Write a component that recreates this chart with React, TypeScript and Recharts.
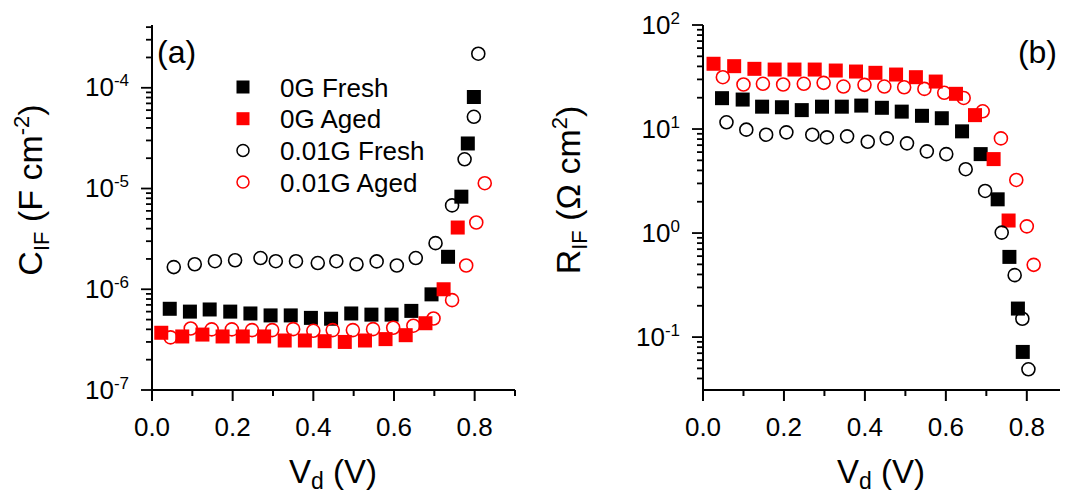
import React from "react";
import { ScatterChart, Scatter, XAxis, YAxis, Legend } from "recharts";

const FONT = "'Liberation Sans', Arial, Helvetica, sans-serif";
const RED = "#ff0000";

// (a) interfacial capacitance C_IF (F cm^-2) vs Vd (V)
const cFresh0V = [0.044, 0.094, 0.143, 0.194, 0.244, 0.294, 0.344, 0.394, 0.444, 0.494, 0.544, 0.594, 0.643, 0.693, 0.734, 0.767, 0.783, 0.798];
const cFresh0 = [6.4e-7, 6.0e-7, 6.3e-7, 6.0e-7, 5.75e-7, 5.5e-7, 5.5e-7, 5.2e-7, 5.1e-7, 5.75e-7, 5.6e-7, 5.6e-7, 6.1e-7, 8.9e-7, 2.1e-6, 8.3e-6, 2.8e-5, 8.1e-5];
const cAged0V = [0.023, 0.075, 0.125, 0.175, 0.225, 0.278, 0.329, 0.379, 0.428, 0.478, 0.528, 0.579, 0.629, 0.678, 0.723, 0.758];
const cAged0 = [3.7e-7, 3.4e-7, 3.55e-7, 3.4e-7, 3.4e-7, 3.4e-7, 3.1e-7, 3.1e-7, 3.05e-7, 3.0e-7, 3.1e-7, 3.2e-7, 3.5e-7, 4.6e-7, 1.0e-6, 4.1e-6];
const cFresh01V = [0.054, 0.106, 0.156, 0.206, 0.269, 0.307, 0.357, 0.411, 0.457, 0.507, 0.557, 0.607, 0.654, 0.703, 0.744, 0.775, 0.798, 0.809];
const cFresh01 = [1.66e-6, 1.77e-6, 1.9e-6, 1.94e-6, 2.04e-6, 1.9e-6, 1.9e-6, 1.82e-6, 1.9e-6, 1.77e-6, 1.89e-6, 1.72e-6, 2.04e-6, 2.87e-6, 6.8e-6, 1.95e-5, 5.15e-5, 2.18e-4];
const cAged01V = [0.046, 0.096, 0.148, 0.198, 0.248, 0.298, 0.35, 0.4, 0.448, 0.498, 0.548, 0.598, 0.648, 0.698, 0.744, 0.779, 0.804, 0.825];
const cAged01 = [3.33e-7, 4.08e-7, 4.0e-7, 4.0e-7, 3.93e-7, 3.93e-7, 4.02e-7, 3.87e-7, 3.93e-7, 3.93e-7, 4.02e-7, 4.15e-7, 4.35e-7, 5.13e-7, 7.8e-7, 1.72e-6, 4.6e-6, 1.13e-5];

// (b) interfacial resistance R_IF (ohm cm^2) vs Vd (V)
const rFresh0V = [0.047, 0.098, 0.146, 0.195, 0.244, 0.294, 0.343, 0.391, 0.442, 0.491, 0.541, 0.59, 0.64, 0.686, 0.728, 0.757, 0.778, 0.79];
const rFresh0 = [19.8, 19.2, 16.4, 16.2, 15.2, 16.4, 16.4, 16.8, 16.0, 14.7, 13.4, 12.7, 9.5, 5.74, 2.11, 0.59, 0.188, 0.072];
const rAged0V = [0.026, 0.077, 0.127, 0.177, 0.226, 0.276, 0.328, 0.378, 0.426, 0.477, 0.526, 0.575, 0.625, 0.672, 0.718, 0.755];
const rAged0 = [42.4, 40.2, 37.9, 37.3, 37.3, 37.3, 36.5, 35.7, 34.7, 33.4, 31.5, 28.6, 21.8, 13.6, 5.14, 1.32];
const rFresh01V = [0.058, 0.107, 0.156, 0.206, 0.27, 0.306, 0.356, 0.407, 0.454, 0.504, 0.553, 0.601, 0.649, 0.697, 0.738, 0.77, 0.789, 0.804];
const rFresh01 = [11.6, 9.86, 8.82, 9.29, 8.82, 8.31, 8.5, 7.55, 8.13, 7.28, 6.1, 5.74, 4.11, 2.54, 1.01, 0.394, 0.15, 0.049];
const rAged01V = [0.049, 0.1, 0.148, 0.198, 0.249, 0.298, 0.347, 0.399, 0.448, 0.497, 0.547, 0.596, 0.644, 0.691, 0.736, 0.774, 0.8, 0.817];
const rAged01 = [31.5, 26.8, 27.2, 26.8, 27.2, 27.8, 25.6, 26.6, 25.6, 25.2, 24.3, 22.3, 19.9, 14.8, 8.13, 3.24, 1.16, 0.495];

const seriesNames = ["0G Fresh", "0G Aged", "0.01G Fresh", "0.01G Aged"];
const seriesColors = ["#000", RED, "#000", RED];
const seriesFilled = [true, true, false, false];

const xTicksA = [0, 0.1, 0.2, 0.3, 0.4, 0.5, 0.6, 0.7, 0.8, 0.9];
const xTicksB = [0, 0.1, 0.2, 0.3, 0.4, 0.5, 0.6, 0.7, 0.8];
const decadesA = [-7, -6, -5, -4];
const decadesB = [-2, -1, 0, 1, 2];

const logTicks = (decades: number[], lo: number, hi: number) => {
  const out: number[] = [];
  decades.forEach((d) => {
    for (let m = 1; m <= 9; m++) {
      const v = m * Math.pow(10, d);
      if (v >= lo * 0.999 && v <= hi * 1.001) out.push(v);
    }
  });
  return out;
};

const zip = (xs: number[], ys: number[]) => xs.map((x, i) => ({ x, y: ys[i] }));

const XTick = (props: any) => {
  const { x, y, payload } = props;
  const v = payload.value;
  const major = Math.abs(v * 5 - Math.round(v * 5)) < 1e-6;
  return (
    <g>
      <line x1={x} x2={x} y1={y} y2={y + (major ? 11 : 6)} stroke="#000" strokeWidth={2} />
      {major && (
        <text x={x} y={y + 46} textAnchor="middle" fontFamily={FONT} fontSize={26} fill="#000">
          {v.toFixed(1)}
        </text>
      )}
    </g>
  );
};

const YTick = (props: any) => {
  const { x, y, payload } = props;
  const e = Math.log10(payload.value);
  const major = Math.abs(e - Math.round(e)) < 1e-6;
  return (
    <g>
      <line x1={x - (major ? 11 : 6)} x2={x} y1={y} y2={y} stroke="#000" strokeWidth={1.8} />
      {major && (
        <text x={x - 23} y={y + 8.5} textAnchor="end" fontFamily={FONT} fontSize={26} fill="#000">
          10<tspan dy={-10} fontSize={17}>{Math.round(e)}</tspan>
        </text>
      )}
    </g>
  );
};

const square = (color: string, s: number) => (p: any) => (
  <rect x={p.cx - s / 2} y={p.cy - s / 2} width={s} height={s} fill={color} />
);
const ring = (color: string, r: number) => (p: any) => (
  <circle cx={p.cx} cy={p.cy} r={r} fill="none" stroke={color} strokeWidth={1.6} />
);
const shapeFor = (i: number) => (seriesFilled[i] ? square(seriesColors[i], 14) : ring(seriesColors[i], 6.5));

const LegendBox = () => (
  <svg width={210} height={130}>
    {seriesNames.map((n, i) => {
      const cy = 17 + i * 31.7;
      return (
        <g key={n}>
          {seriesFilled[i] ? (
            <rect x={15 - 6.5} y={cy - 6.5} width={13} height={13} fill={seriesColors[i]} />
          ) : (
            <circle cx={15} cy={cy} r={6} fill="none" stroke={seriesColors[i]} strokeWidth={1.5} />
          )}
          <text x={52} y={cy + 9.5} fontFamily={FONT} fontSize={26} fill="#000">
            {n}
          </text>
        </g>
      );
    })}
  </svg>
);

const axisLine = { stroke: "#000", strokeWidth: 2 };

const Panel = (props: {
  left: number;
  width: number;
  yWidth: number;
  right: number;
  xMax: number;
  xTicks: number[];
  yDomain: [number, number];
  yTicks: number[];
  series: { x: number; y: number }[][];
  legend?: boolean;
}) => (
  <div style={{ position: "absolute", left: props.left, top: 0 }}>
    <ScatterChart width={props.width} height={499} margin={{ top: 25, right: props.right, bottom: 0, left: 0 }}>
      <XAxis
        type="number"
        dataKey="x"
        domain={[0, props.xMax]}
        ticks={props.xTicks}
        interval={0}
        height={109}
        tickSize={0}
        tickMargin={0}
        tickLine={false}
        axisLine={axisLine}
        tick={<XTick />}
        allowDataOverflow
      />
      <XAxis xAxisId="top" orientation="top" type="number" domain={[0, props.xMax]} height={0} tick={false} tickLine={false} axisLine={axisLine} />
      <YAxis
        type="number"
        dataKey="y"
        scale="log"
        domain={props.yDomain}
        ticks={props.yTicks}
        interval={0}
        width={props.yWidth}
        tickSize={0}
        tickMargin={0}
        tickLine={false}
        axisLine={axisLine}
        tick={<YTick />}
        allowDataOverflow
      />
      <YAxis yAxisId="right" orientation="right" type="number" domain={[0, 1]} width={0} tick={false} tickLine={false} axisLine={axisLine} />
      {props.series.map((d, i) => (
        <Scatter key={seriesNames[i]} name={seriesNames[i]} data={d} shape={shapeFor(i)} isAnimationActive={false} />
      ))}
      {props.legend && (
        <Legend
          layout="vertical"
          align="center"
          verticalAlign="middle"
          content={() => <LegendBox />}
          wrapperStyle={{ position: "absolute", left: 228, top: 70, width: 210, height: 130 }}
        />
      )}
    </ScatterChart>
  </div>
);

export default function App() {
  const seriesA = [zip(cFresh0V, cFresh0), zip(cAged0V, cAged0), zip(cFresh01V, cFresh01), zip(cAged01V, cAged01)];
  const seriesB = [zip(rFresh0V, rFresh0), zip(rAged0V, rAged0), zip(rFresh01V, rFresh01), zip(rAged01V, rAged01)];
  return (
    <div style={{ position: "absolute", left: 0, top: 0, width: 1069, height: 499, background: "#fff", overflow: "hidden" }}>
      <Panel
        left={0}
        width={535}
        yWidth={152}
        right={20}
        xMax={0.9}
        xTicks={xTicksA}
        yDomain={[1e-7, 4.2e-4]}
        yTicks={logTicks(decadesA, 1e-7, 4.2e-4)}
        series={seriesA}
        legend
      />
      <Panel
        left={535}
        width={534}
        yWidth={168}
        right={9}
        xMax={0.882}
        xTicks={xTicksB}
        yDomain={[0.031, 100]}
        yTicks={logTicks(decadesB, 0.031, 100)}
        series={seriesB}
      />
      <svg width={1069} height={499} style={{ position: "absolute", left: 0, top: 0, pointerEvents: "none" }} fontFamily={FONT} fill="#000">
        <text x={157} y={63} fontSize={32}>(a)</text>
        <text x={1057} y={63} fontSize={32} textAnchor="end">(b)</text>
        <text transform="translate(42,190) rotate(-90)" textAnchor="middle" fontSize={34}>
          C<tspan dy={7} fontSize={22}>IF</tspan>
          <tspan dy={-7}> (F cm</tspan>
          <tspan dy={-13} fontSize={22}>-2</tspan>
          <tspan dy={13}>)</tspan>
        </text>
        <text transform="translate(580,190) rotate(-90)" textAnchor="middle" fontSize={34}>
          R<tspan dy={7} fontSize={22}>IF</tspan>
          <tspan dy={-7}> (Ω cm</tspan>
          <tspan dy={-13} fontSize={22}>2</tspan>
          <tspan dy={13}>)</tspan>
        </text>
        <text x={333} y={483} textAnchor="middle" fontSize={33}>
          V<tspan dy={6} fontSize={23}>d</tspan>
          <tspan dy={-6}> (V)</tspan>
        </text>
        <text x={881} y={483} textAnchor="middle" fontSize={33}>
          V<tspan dy={6} fontSize={23}>d</tspan>
          <tspan dy={-6}> (V)</tspan>
        </text>
      </svg>
    </div>
  );
}
